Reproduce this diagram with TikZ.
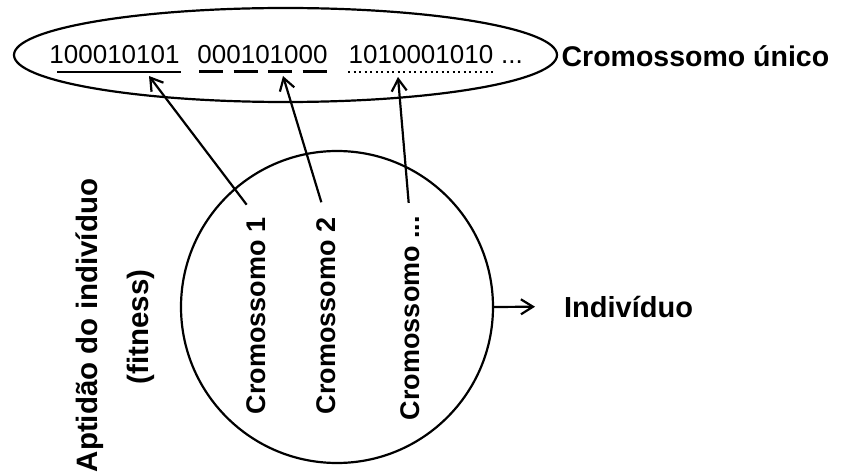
\documentclass[tikz,border=0pt]{standalone}
\usepackage{fontspec}
\setmainfont{Liberation Sans}
\usetikzlibrary{arrows.meta}
\begin{document}
\begin{tikzpicture}[x=1pt, y=-1pt, line width=2.2pt, line join=round,
		>={Straight Barb[length=12pt,width=15pt]},
		bits/.style={font=\fontsize{26}{30}\selectfont, inner sep=0pt, anchor=base},
		lbl/.style={font=\fontsize{28.5}{32}\selectfont\bfseries, inner sep=0pt, anchor=base west},
		vlbl/.style={font=\fontsize{27}{32}\selectfont\bfseries, inner sep=0pt, anchor=base, rotate=90}]
	\useasboundingbox (0,0) rectangle (844,476);
	% cromossomo unico
	\draw (285.5,55) ellipse [x radius=271.5, y radius=47];
	\node[bits] (b1) at (114.5,64) {100010101};
	\node[bits] (b2) at (262.5,64) {000101000};
	\node[bits] (b3) at (421,64) {1010001010};
	\node[bits] (bdots) at (512,64) {...};
	\draw (57,72) -- (181,72);
	\draw[line width=3pt, dash pattern=on 24pt off 10.5pt] (199,72) -- (326.5,72);
	\draw[dash pattern=on 2pt off 3.5pt] (348,72) -- (495,72);
	\node[lbl] (unico) at (560.5,67) {Cromossomo único};
	% individuo
	\node[draw, circle, minimum size=312pt, inner sep=0pt] (ind) at (337,307) {};
	\node[lbl, font=\fontsize{29}{32}\selectfont\bfseries] (indlbl) at (563,317) {Indivíduo};
	\draw[->, shorten >=28pt] (ind.east) -- (indlbl.west);
	\node[vlbl] (cr1) at (265,316) {Cromossomo 1};
	\node[vlbl] (cr2) at (335,316) {Cromossomo 2};
	\node[vlbl] (cr3) at (419,318) {Cromossomo ...};
	\coordinate (t1) at (149,76);
	\coordinate (t2) at (283,76);
	\coordinate (t3) at (398,77);
	\draw[->, shorten <=15pt] (cr1.east) -- (t1);
	\draw[->, shorten <=15pt] (cr2.east) -- (t2);
	\draw[->, shorten <=12pt] (cr3.east) -- (t3);
	% aptidao
	\node[vlbl, font=\fontsize{29.5}{34}\selectfont\bfseries] (apt) at (97,325.5) {Aptidão do indivíduo};
	\node[vlbl, font=\fontsize{29.5}{34}\selectfont\bfseries] (fit) at (148,327) {(fitness)};
\end{tikzpicture}
\end{document}
